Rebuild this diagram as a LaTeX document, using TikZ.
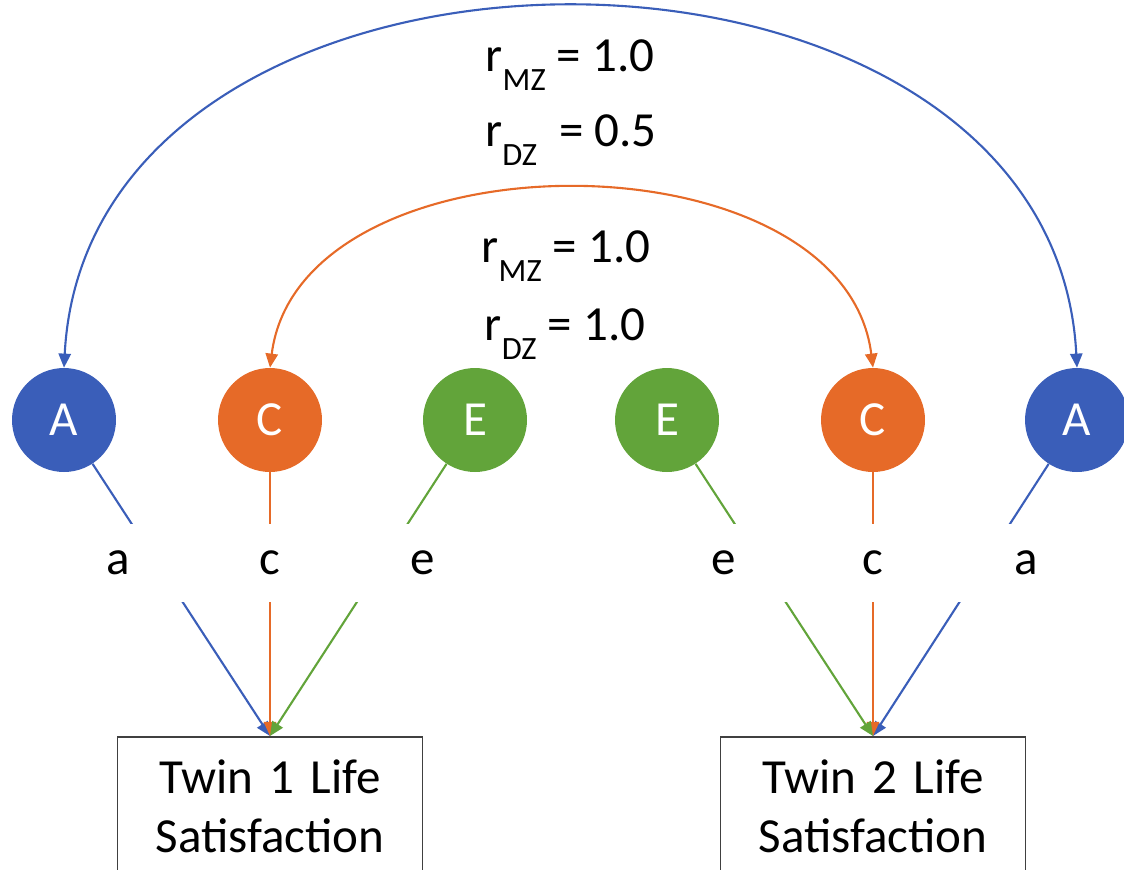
\documentclass[tikz,border=0pt]{standalone}
\usepackage{fontspec}
\setmainfont{Carlito}
\usetikzlibrary{arrows.meta,positioning}
\definecolor{addA}{HTML}{3A5EB9}
\definecolor{sharedC}{HTML}{E66A28}
\definecolor{uniqE}{HTML}{62A43A}
\newcommand{\rcor}[1]{r\raisebox{-0.38em}{\fontsize{18.5}{20}\selectfont #1}}

\begin{document}
\begin{tikzpicture}[
  x=0.02cm, y=-0.02cm,
  >={Triangle[length=8pt,width=7pt]},
  font=\fontsize{27.9}{33.6}\selectfont,
  lat/.style={circle, fill=#1, text=white, minimum size=2.08cm, inner sep=0pt},
  pth/.style={draw=#1, line width=1.2pt, ->},
  lbl/.style={fill=white, minimum width=2.8cm, minimum height=1.56cm, inner sep=0pt},
  obs/.style={draw=black!75, line width=1pt, anchor=north, text width=6.1cm, align=center,
    inner xsep=0pt, inner ysep=0.45cm}]
  \clip (0,0) rectangle (1124,869);
  \foreach \n/\x/\c/\t in {A1/64/addA/A, C1/270/sharedC/C, E1/475/uniqE/E,
                           E2/667/uniqE/E, C2/873/sharedC/C, A2/1077/addA/A}
    \node[lat=\c] (\n) at (\x,420) {\t};
  \node[obs] (T1) at (270,736) {Twin 1 Life\\Satisfaction\\[1cm]};
  \node[obs] (T2) at (873,736) {Twin 2 Life\\Satisfaction\\[1cm]};
  % paths to the twins
  \foreach \n/\c in {A1/addA, C1/sharedC, E1/uniqE}
    \draw[pth=\c] (\n) -- (T1.north);
  \foreach \n/\c in {A2/addA, C2/sharedC, E2/uniqE}
    \draw[pth=\c] (\n) -- (T2.north);
  \foreach \n/\x/\t in {a1/118/a, c1/270/c, e1/423/e, e2/724/e, c2/873/c, a2/1026/a}
    \node[lbl] (\n) at (\x,563) {\t};
  % correlations between the twins
  \draw[pth=addA, <->] (A1.north) .. controls +(25,-480) and +(-25,-480) .. (A2.north);
  \draw[pth=sharedC, <->] (C1.north) .. controls +(30,-238) and +(-30,-238) .. (C2.north);
  \node (rMZa) at (570,65) {\rcor{MZ} = 1.0};
  \node (rDZa) at (571,140) {\rcor{DZ}\ \ = 0.5};
  \node (rMZc) at (566,256) {\rcor{MZ} = 1.0};
  \node (rDZc) at (565,334) {\rcor{DZ} = 1.0};
\end{tikzpicture}
\end{document}
